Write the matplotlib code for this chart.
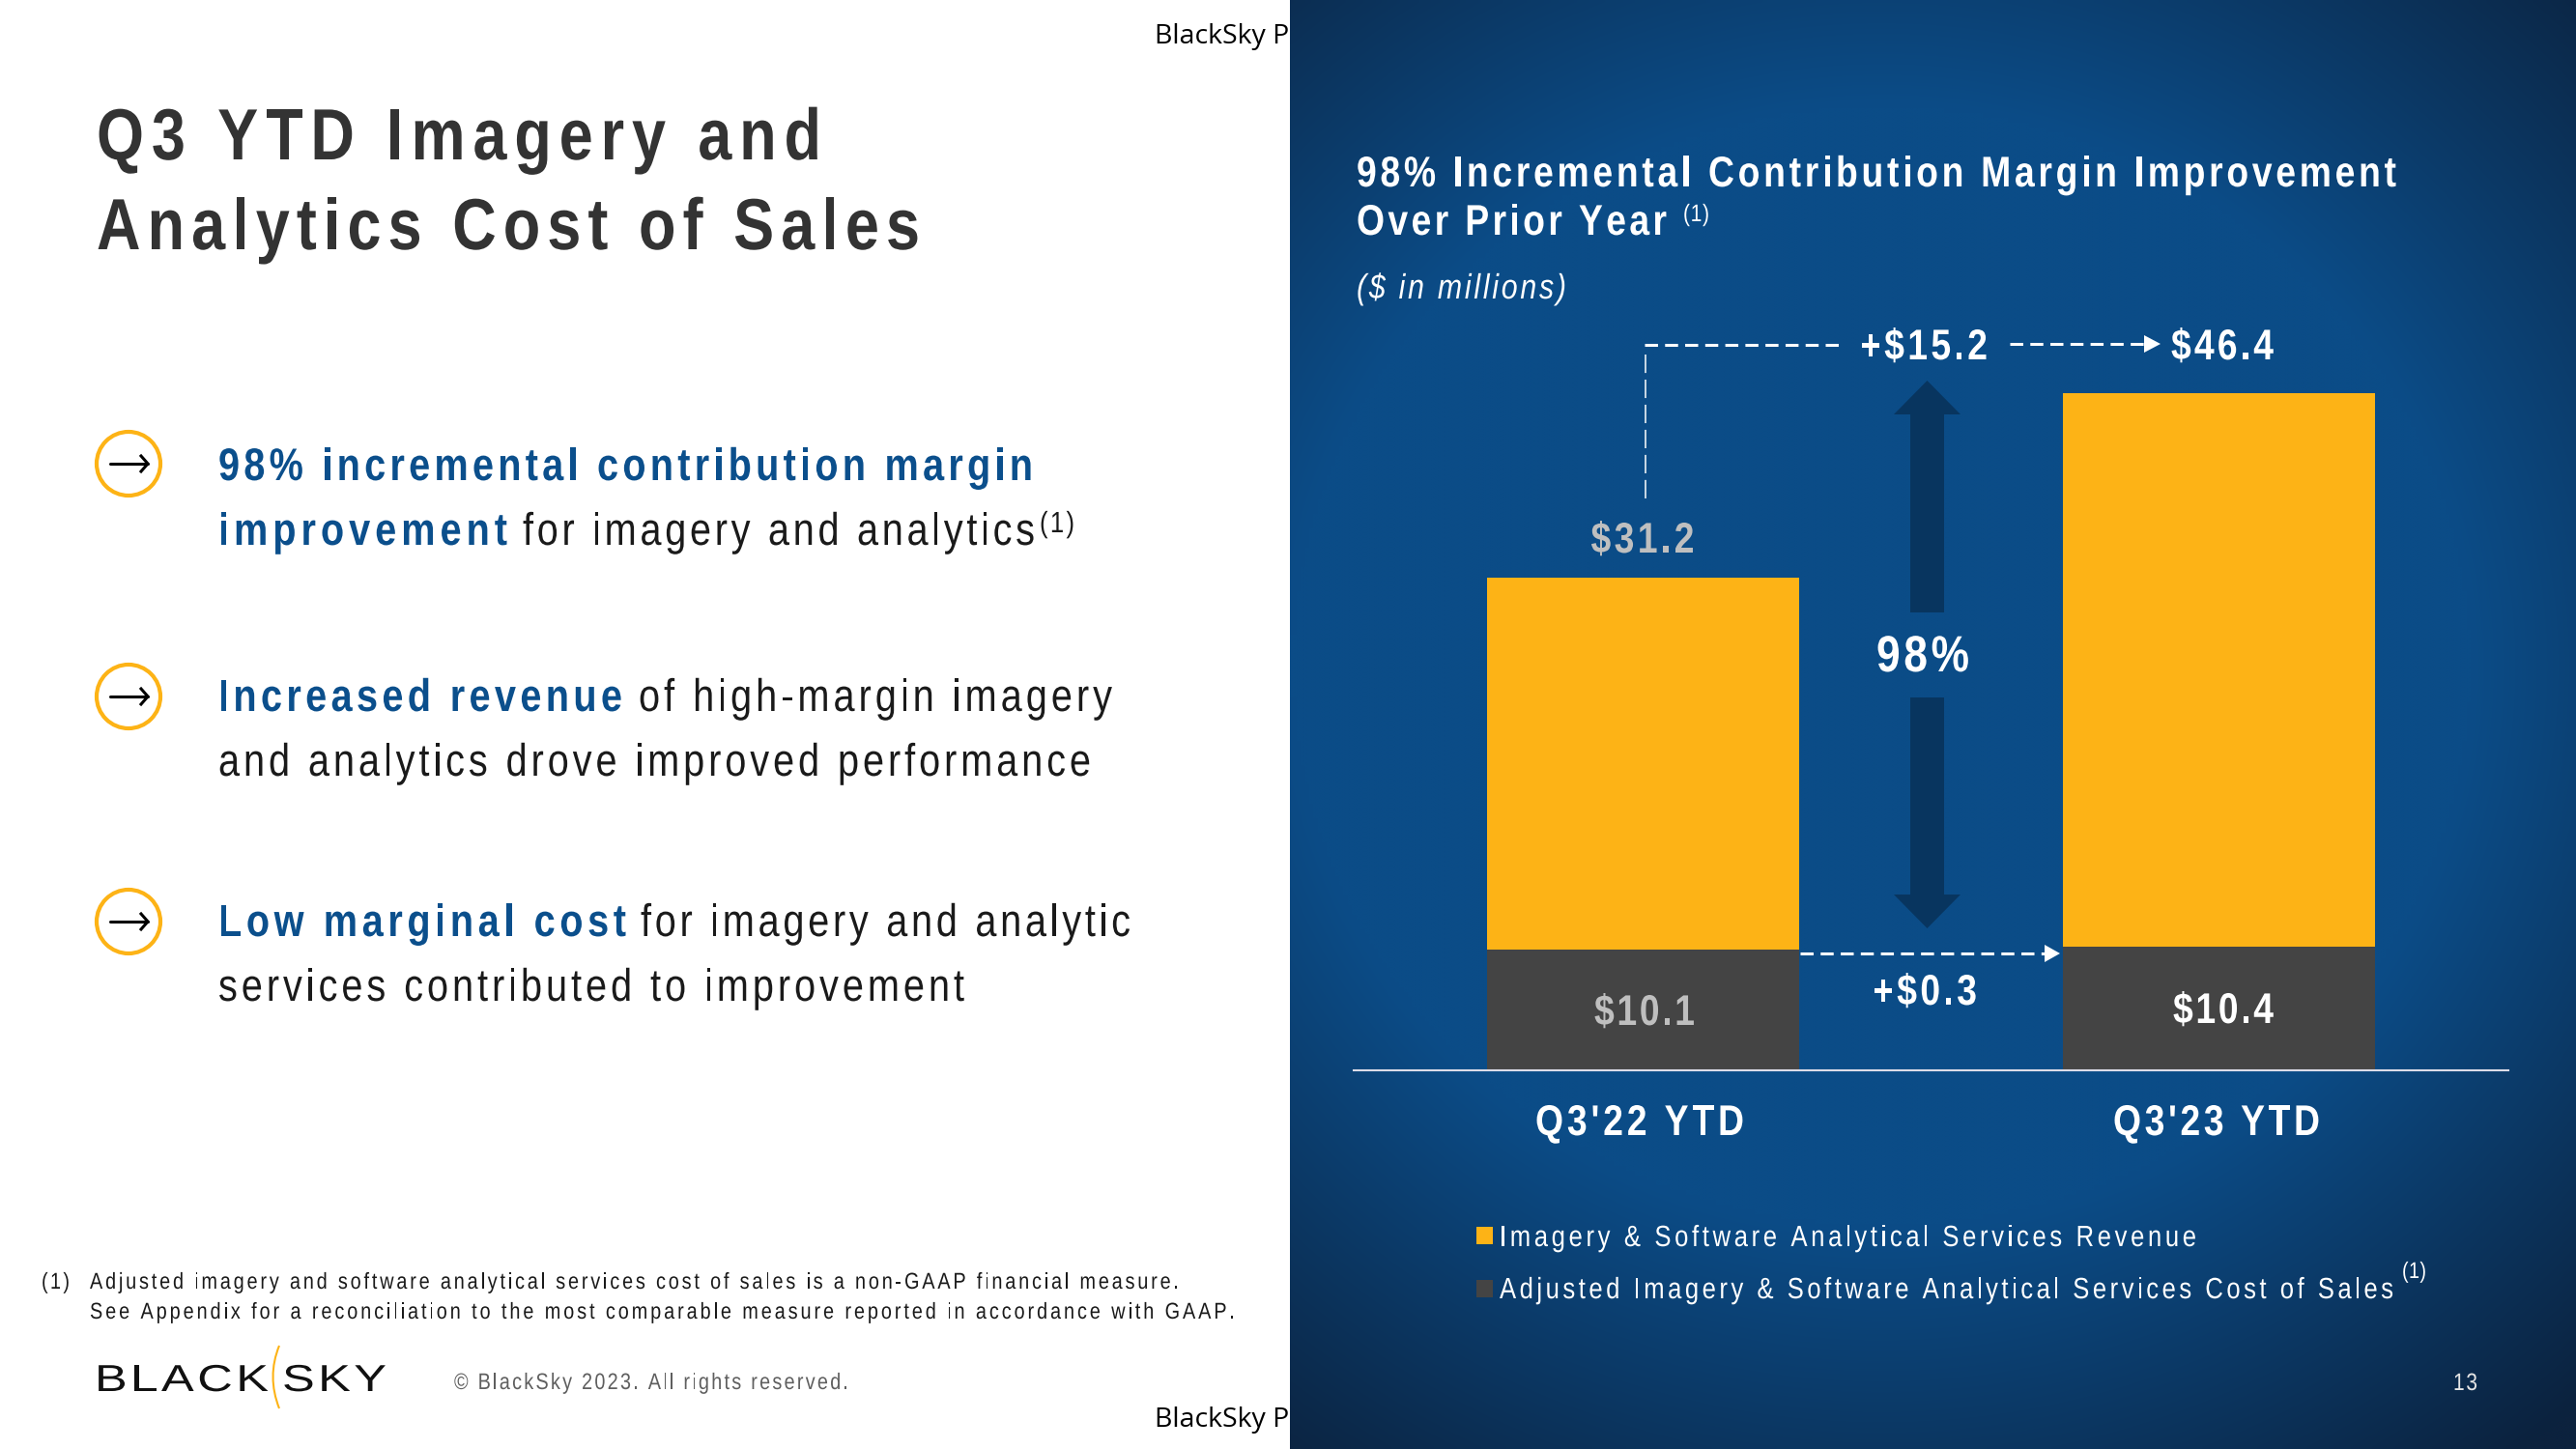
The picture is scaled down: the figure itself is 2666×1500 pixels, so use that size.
import numpy as np
import matplotlib
matplotlib.use("Agg")
import matplotlib.pyplot as plt
from matplotlib import patches
from matplotlib.colors import to_rgb
from matplotlib.font_manager import FontProperties, findfont, get_font
from matplotlib.ft2font import LoadFlags
from matplotlib.path import Path
from matplotlib.text import Text
from matplotlib.textpath import TextPath
from matplotlib.transforms import Affine2D, Bbox

W, H = 2666, 1500
DPI = 100
PANEL_X = 1335

# -----------------------------
# Chart data
# -----------------------------
categories = ["Q3'22 YTD", "Q3'23 YTD"]
cost_of_sales = [10.1, 10.4]
revenue = [31.2, 46.4]
revenue_change = "+$15.2"
cost_change = "+$0.3"
margin_change = "98%"
legend_labels = [
    "Imagery & Software Analytical Services Revenue",
    "Adjusted Imagery & Software Analytical Services Cost of Sales",
]

YELLOW = "#FDB316"
GREY = "#444444"
NAVY = "#08355F"
BLUE = "#0B4F8C"
INK = "#1A1A1A"
FONT = "Liberation Sans"
COND = 0.84


class TrackedText(Text):
    """Condensed, letter spaced text. Keeps the whole string; glyphs are spread to fill `width` pixels."""

    def __init__(self, x, y, s, width, cond=COND, **kw):
        super().__init__(x, y, s, **kw)
        prop = self.get_fontproperties()
        self.px = self.get_fontsize() * DPI / 72
        self.cond = cond
        self.glyphs = [None if c == " " else TextPath((0, 0), c, size=self.px, prop=prop) for c in s]
        font = get_font(findfont(prop))
        font.set_size(self.get_fontsize(), DPI)
        self.adv = [font.load_char(ord(c), flags=LoadFlags.NO_HINTING).linearHoriAdvance / 65536 * cond for c in s]
        self.width = width
        self.tracking = (width - sum(self.adv)) / max(len(s) - 1, 1)

    def start(self):
        x, y = self.get_transform().transform(self.get_position())
        if self.get_ha() == "center":
            x -= self.width / 2
        return x, y

    def get_window_extent(self, renderer=None, dpi=None):
        x, y = self.start()
        return Bbox([[x, y - 0.2 * self.px], [x + self.width, y + 0.75 * self.px]])

    def draw(self, renderer):
        if not self.get_visible():
            return
        gc = renderer.new_gc()
        gc.set_linewidth(0)
        x, y = self.start()
        face = to_rgb(self.get_color())
        for g, a in zip(self.glyphs, self.adv):
            if g is not None:
                renderer.draw_path(gc, g, Affine2D().scale(self.cond, 1).translate(x, y), face)
            x += a + self.tracking
        gc.restore()


def put(x, y, s, size, x1=None, width=None, color="white", weight="normal", style="normal", ha="left", cond=COND):
    prop = FontProperties(family=FONT, size=size, weight=weight, style=style)
    t = TrackedText(x, y, s, width if x1 is None else x1 - x, cond=cond, fontproperties=prop, color=color, ha=ha,
                    va="baseline")
    ov.add_artist(t)
    return t


def px_axes(**kw):
    a = fig.add_axes([0, 0, 1, 1], **kw)
    a.set_xlim(0, W)
    a.set_ylim(H, 0)
    a.axis("off")
    return a


fig = plt.figure(figsize=(W / DPI, H / DPI), dpi=DPI, facecolor="white")

# -----------------------------
# Background: white slide + blue panel
# -----------------------------
bg = px_axes(zorder=0)
bg.text(1195, 45, "BlackSky P", fontsize=20.5, family="Open Sans", color="black", zorder=1)
bg.text(1195, 1477, "BlackSky P", fontsize=20.5, family="Open Sans", color="black", zorder=1)

gy, gx = np.mgrid[0:1:300j, 0:1:300j]
r = np.hypot((gx - 0.46) / 0.64, (gy - 0.46) / 0.54)
fade = np.clip((r - 0.72) / 0.55, 0, 1)[..., None]
center = np.array([11, 76, 135]) / 255
edge = np.array([12, 34, 62]) / 255
bg.imshow(center * (1 - fade) + edge * fade, extent=(PANEL_X, W, H, 0), aspect="auto", zorder=2,
          interpolation="bilinear")
bg.set_xlim(0, W)
bg.set_ylim(H, 0)

# -----------------------------
# Stacked bars
# -----------------------------
base_px = 1108
px_per_unit = 12.34
ax_left, ax_right = 1401, 2596
ax_top = base_px - 60 * px_per_unit
ax = fig.add_axes([ax_left / W, 1 - base_px / H, (ax_right - ax_left) / W, (base_px - ax_top) / H], zorder=2)
ax.patch.set_alpha(0)
x = np.arange(len(categories))
ax.bar(x, cost_of_sales, width=0.542, color=GREY, label=legend_labels[1])
ax.bar(x, revenue, width=0.542, bottom=cost_of_sales, color=YELLOW, label=legend_labels[0])
ax.set_xlim(-0.5025, 1.5025)
ax.set_ylim(0, 60)
ax.set_xticks([])
ax.set_yticks([])
for s in ["top", "left", "right"]:
    ax.spines[s].set_visible(False)
ax.spines["bottom"].set_color("#DCDCE8")
ax.spines["bottom"].set_linewidth(1.5)

# -----------------------------
# Overlay: all slide text and callouts, in pixels
# -----------------------------
ov = px_axes(zorder=3)

# left column
put(100, 165, "Q3 YTD Imagery and", 54, x1=850, color="#333333", weight="bold")
put(100, 258, "Analytics Cost of Sales", 54, x1=952, color="#333333", weight="bold")

put(226, 497, "98% incremental contribution margin", 34, x1=1069, color=BLUE, weight="bold")
put(226, 564, "improvement", 34, x1=525, color=BLUE, weight="bold")
put(541, 564, "for imagery and analytics", 34, x1=1071, color=INK)
put(1076, 551, "(1)", 22, x1=1112, color=INK)
put(226, 736, "Increased revenue", 34, x1=644, color=BLUE, weight="bold")
put(661, 736, "of high-margin imagery", 34, x1=1151, color=INK)
put(226, 803, "and analytics drove improved performance", 34, x1=1129, color=INK)
put(226, 969, "Low marginal cost", 34, x1=648, color=BLUE, weight="bold")
put(663, 969, "for imagery and analytic", 34, x1=1170, color=INK)
put(226, 1036, "services contributed to improvement", 34, x1=998, color=INK)

for cy in [480, 721, 954]:
    ov.add_patch(patches.Circle((133, cy), 33, fill=False, ec=YELLOW, lw=3))
    ov.plot([114, 153], [cy, cy], color="black", lw=2.2, solid_capstyle="round")
    ov.plot([146, 153, 146], [cy - 8, cy, cy + 8], color="black", lw=2.2)

put(43, 1334, "(1)", 17, x1=72, color=INK)
put(93, 1334, "Adjusted imagery and software analytical services cost of sales is a non-GAAP financial measure.",
    17, x1=1220, color=INK)
put(93, 1365, "See Appendix for a reconciliation to the most comparable measure reported in accordance with GAAP.",
    17, x1=1278, color=INK)

put(98, 1440, "BLACK", 28, x1=278, color="#111111", cond=1.3)
put(292, 1440, "SKY", 28, x1=400, color="#111111", cond=1.3)
ov.add_patch(patches.PathPatch(Path([(289, 1393), (276, 1425), (289, 1458)], [Path.MOVETO, Path.CURVE3, Path.CURVE3]),
                               fill=False, ec=YELLOW, lw=1.5))
put(470, 1438, "© BlackSky 2023. All rights reserved.", 17, x1=878, color="#5F5F5F")

# panel header
put(1404, 193, "98% Incremental Contribution Margin Improvement", 32, x1=2480, weight="bold")
put(1404, 243, "Over Prior Year", 32, x1=1725, weight="bold")
put(1742, 229, "(1)", 18, x1=1769)
put(1404, 309, "($ in millions)", 26, x1=1621, style="italic")

# value labels
put(1700, 572, f"${revenue[0]:.1f}", 32, width=107, color="#BFBFBF", weight="bold", ha="center")
put(2300, 372, f"${revenue[1]:.1f}", 32, width=106, weight="bold", ha="center")
put(1702, 1061, f"${cost_of_sales[0]:.1f}", 32, width=104, color="#BFBFBF", weight="bold", ha="center")
put(2301, 1059, f"${cost_of_sales[1]:.1f}", 32, width=104, weight="bold", ha="center")
put(1991, 372, revenue_change, 32, width=132, weight="bold", ha="center")
put(1992, 1040, cost_change, 32, width=108, weight="bold", ha="center")
put(1990, 695, margin_change, 38, width=96, weight="bold", ha="center")

put(1697, 1175, categories[0], 32, width=216, weight="bold", ha="center")
put(2294, 1175, categories[1], 32, width=214, weight="bold", ha="center")

# big up / down arrows
ov.add_patch(patches.Polygon([(1994.5, 394), (2029, 429), (2012, 429), (2012, 634), (1977, 634), (1977, 429), (1960, 429)],
                             fc=NAVY, ec="none"))
ov.add_patch(patches.Polygon([(1994.5, 961), (2029, 926), (2012, 926), (2012, 722), (1977, 722), (1977, 926), (1960, 926)],
                             fc=NAVY, ec="none"))

# dashed connectors
dash = dict(color="white", lw=2.2, dashes=(4.4, 2.4))
ov.plot([1702, 1905], [357, 357], **dash)
ov.plot([1703, 1703], [367, 516], color="white", lw=1.1, dashes=(12.5, 4.5))
ov.plot([2080, 2219], [356, 356], **dash)
ov.plot([1863, 2116], [987, 987], **dash)
ov.add_patch(patches.Polygon([(2236, 356), (2219, 347), (2219, 365)], fc="white", ec="none"))
ov.add_patch(patches.Polygon([(2132, 987), (2116, 978), (2116, 996)], fc="white", ec="none"))

# legend
ov.add_patch(patches.Rectangle((1528, 1270), 17, 18, fc=YELLOW, ec="none"))
ov.add_patch(patches.Rectangle((1528, 1325), 17, 18, fc=GREY, ec="none"))
put(1552, 1290, legend_labels[0], 22, x1=2273)
put(1552, 1344, legend_labels[1], 22, x1=2477)
put(2486, 1323, "(1)", 17, x1=2511)

put(2539, 1439, "13", 18, x1=2564, color="#E6E6E6")

ov.set_xlim(0, W)
ov.set_ylim(H, 0)

fig.savefig("out.png", dpi=DPI)
